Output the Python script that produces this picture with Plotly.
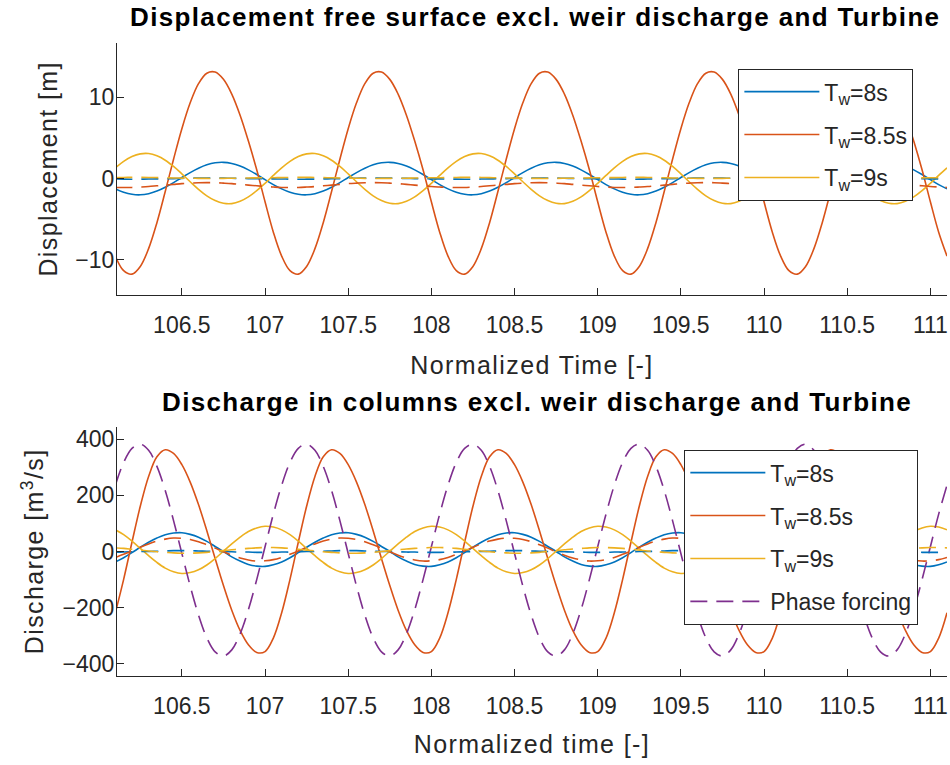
import plotly.graph_objects as go

# ---------------- data ----------------
time = [106.10, 106.15, 106.20, 106.25, 106.30, 106.35, 106.40, 106.45, 106.50, 106.55,
        106.60, 106.65, 106.70, 106.75, 106.80, 106.85, 106.90, 106.95, 107.00, 107.05,
        107.10, 107.15, 107.20, 107.25, 107.30, 107.35, 107.40, 107.45, 107.50, 107.55,
        107.60, 107.65, 107.70, 107.75, 107.80, 107.85, 107.90, 107.95, 108.00, 108.05,
        108.10, 108.15, 108.20, 108.25, 108.30, 108.35, 108.40, 108.45, 108.50, 108.55,
        108.60, 108.65, 108.70, 108.75, 108.80, 108.85, 108.90, 108.95, 109.00, 109.05,
        109.10, 109.15, 109.20, 109.25, 109.30, 109.35, 109.40, 109.45, 109.50, 109.55,
        109.60, 109.65, 109.70, 109.75, 109.80, 109.85, 109.90, 109.95, 110.00, 110.05,
        110.10, 110.15, 110.20, 110.25, 110.30, 110.35, 110.40, 110.45, 110.50, 110.55,
        110.60, 110.65, 110.70, 110.75, 110.80, 110.85, 110.90, 110.95, 111.00, 111.05,
        111.10]

# ---- Displacement [m] ----
disp_8 = [
    -1.27, -1.69, -1.94, -2.0, -1.86, -1.54, -1.07, -0.50, 0.13, 0.74,
    1.27, 1.69, 1.94, 2.0, 1.86, 1.54, 1.07, 0.50, -0.13, -0.74,
    -1.27, -1.69, -1.94, -2.0, -1.86, -1.54, -1.07, -0.50, 0.13, 0.74,
    1.27, 1.69, 1.94, 2.0, 1.86, 1.54, 1.07, 0.50, -0.13, -0.74,
    -1.27, -1.69, -1.94, -2.0, -1.86, -1.54, -1.07, -0.50, 0.13, 0.74,
    1.27, 1.69, 1.94, 2.0, 1.86, 1.54, 1.07, 0.50, -0.13, -0.74,
    -1.27, -1.69, -1.94, -2.0, -1.86, -1.54, -1.07, -0.50, 0.13, 0.74,
    1.27, 1.69, 1.94, 2.0, 1.86, 1.54, 1.07, 0.50, -0.13, -0.74,
    -1.27, -1.69, -1.94, -2.0, -1.86, -1.54, -1.07, -0.50, 0.13, 0.74,
    1.27, 1.69, 1.94, 2.0, 1.86, 1.54, 1.07, 0.50, -0.13, -0.74,
    -1.27]
disp_85 = [
    -9.55, -11.34, -11.77, -10.82, -8.63, -5.43, -1.6, 2.38, 6.14, 9.33,
    11.69, 12.98, 13.12, 12.22, 10.41, 7.81, 4.62, 1.08, -2.86, -6.6,
    -9.55, -11.34, -11.77, -10.82, -8.63, -5.43, -1.6, 2.38, 6.14, 9.33,
    11.69, 12.98, 13.12, 12.22, 10.41, 7.81, 4.62, 1.08, -2.86, -6.6,
    -9.55, -11.34, -11.77, -10.82, -8.63, -5.43, -1.6, 2.38, 6.14, 9.33,
    11.69, 12.98, 13.12, 12.22, 10.41, 7.81, 4.62, 1.08, -2.86, -6.6,
    -9.55, -11.34, -11.77, -10.82, -8.63, -5.43, -1.6, 2.38, 6.14, 9.33,
    11.69, 12.98, 13.12, 12.22, 10.41, 7.81, 4.62, 1.08, -2.86, -6.6,
    -9.55, -11.34, -11.77, -10.82, -8.63, -5.43, -1.6, 2.38, 6.14, 9.33,
    11.69, 12.98, 13.12, 12.22, 10.41, 7.81, 4.62, 1.08, -2.86, -6.6,
    -9.55]
disp_9 = [
    1.32, 2.12, 2.71, 3.04, 3.08, 2.80, 2.26, 1.49, 0.58, -0.39,
    -1.32, -2.12, -2.71, -3.04, -3.08, -2.80, -2.26, -1.49, -0.58, 0.39,
    1.32, 2.12, 2.71, 3.04, 3.08, 2.80, 2.26, 1.49, 0.58, -0.39,
    -1.32, -2.12, -2.71, -3.04, -3.08, -2.80, -2.26, -1.49, -0.58, 0.39,
    1.32, 2.12, 2.71, 3.04, 3.08, 2.80, 2.26, 1.49, 0.58, -0.39,
    -1.32, -2.12, -2.71, -3.04, -3.08, -2.80, -2.26, -1.49, -0.58, 0.39,
    1.32, 2.12, 2.71, 3.04, 3.08, 2.80, 2.26, 1.49, 0.58, -0.39,
    -1.32, -2.12, -2.71, -3.04, -3.08, -2.80, -2.26, -1.49, -0.58, 0.39,
    1.32, 2.12, 2.71, 3.04, 3.08, 2.80, 2.26, 1.49, 0.58, -0.39,
    -1.32, -2.12, -2.71, -3.04, -3.08, -2.80, -2.26, -1.49, -0.58, 0.39,
    1.32]
disp_8_ref = [
    -0.05, -0.07, -0.08, -0.07, -0.06, -0.04, -0.02, 0.0, 0.03, 0.05,
    0.06, 0.07, 0.07, 0.06, 0.04, 0.02, 0.0, -0.02, -0.03, -0.04,
    -0.05, -0.07, -0.08, -0.07, -0.06, -0.04, -0.02, 0.0, 0.03, 0.05,
    0.06, 0.07, 0.07, 0.06, 0.04, 0.02, 0.0, -0.02, -0.03, -0.04,
    -0.05, -0.07, -0.08, -0.07, -0.06, -0.04, -0.02, 0.0, 0.03, 0.05,
    0.06, 0.07, 0.07, 0.06, 0.04, 0.02, 0.0, -0.02, -0.03, -0.04,
    -0.05, -0.07, -0.08, -0.07, -0.06, -0.04, -0.02, 0.0, 0.03, 0.05,
    0.06, 0.07, 0.07, 0.06, 0.04, 0.02, 0.0, -0.02, -0.03, -0.04,
    -0.05, -0.07, -0.08, -0.07, -0.06, -0.04, -0.02, 0.0, 0.03, 0.05,
    0.06, 0.07, 0.07, 0.06, 0.04, 0.02, 0.0, -0.02, -0.03, -0.04,
    -0.05]
disp_85_ref = [
    -1.09, -1.10, -1.09, -1.04, -0.98, -0.89, -0.80, -0.71, -0.62, -0.56,
    -0.51, -0.50, -0.51, -0.56, -0.62, -0.71, -0.80, -0.89, -0.98, -1.04,
    -1.09, -1.10, -1.09, -1.04, -0.98, -0.89, -0.80, -0.71, -0.62, -0.56,
    -0.51, -0.50, -0.51, -0.56, -0.62, -0.71, -0.80, -0.89, -0.98, -1.04,
    -1.09, -1.10, -1.09, -1.04, -0.98, -0.89, -0.80, -0.71, -0.62, -0.56,
    -0.51, -0.50, -0.51, -0.56, -0.62, -0.71, -0.80, -0.89, -0.98, -1.04,
    -1.09, -1.10, -1.09, -1.04, -0.98, -0.89, -0.80, -0.71, -0.62, -0.56,
    -0.51, -0.50, -0.51, -0.56, -0.62, -0.71, -0.80, -0.89, -0.98, -1.04,
    -1.09, -1.10, -1.09, -1.04, -0.98, -0.89, -0.80, -0.71, -0.62, -0.56,
    -0.51, -0.50, -0.51, -0.56, -0.62, -0.71, -0.80, -0.89, -0.98, -1.04,
    -1.09]
disp_9_ref = [
    0.12, 0.14, 0.15, 0.15, 0.14, 0.12, 0.10, 0.08, 0.06, 0.04,
    0.03, 0.02, 0.02, 0.03, 0.04, 0.05, 0.07, 0.09, 0.10, 0.11,
    0.12, 0.14, 0.15, 0.15, 0.14, 0.12, 0.10, 0.08, 0.06, 0.04,
    0.03, 0.02, 0.02, 0.03, 0.04, 0.05, 0.07, 0.09, 0.10, 0.11,
    0.12, 0.14, 0.15, 0.15, 0.14, 0.12, 0.10, 0.08, 0.06, 0.04,
    0.03, 0.02, 0.02, 0.03, 0.04, 0.05, 0.07, 0.09, 0.10, 0.11,
    0.12, 0.14, 0.15, 0.15, 0.14, 0.12, 0.10, 0.08, 0.06, 0.04,
    0.03, 0.02, 0.02, 0.03, 0.04, 0.05, 0.07, 0.09, 0.10, 0.11,
    0.12, 0.14, 0.15, 0.15, 0.14, 0.12, 0.10, 0.08, 0.06, 0.04,
    0.03, 0.02, 0.02, 0.03, 0.04, 0.05, 0.07, 0.09, 0.10, 0.11,
    0.12]

# ---- Discharge [m3/s] ----
q_8 = [
    -37, -22, -4, 15, 33, 48, 60, 66, 67, 61,
    51, 36, 18, 0, -19, -34, -46, -52, -53, -47,
    -37, -22, -4, 15, 33, 48, 60, 66, 67, 61,
    51, 36, 18, 0, -19, -34, -46, -52, -53, -47,
    -37, -22, -4, 15, 33, 48, 60, 66, 67, 61,
    51, 36, 18, 0, -19, -34, -46, -52, -53, -47,
    -37, -22, -4, 15, 33, 48, 60, 66, 67, 61,
    51, 36, 18, 0, -19, -34, -46, -52, -53, -47,
    -37, -22, -4, 15, 33, 48, 60, 66, 67, 61,
    51, 36, 18, 0, -19, -34, -46, -52, -53, -47,
    -37]
q_85 = [
    -218, -99, 33, 161, 267, 337, 362, 349, 309, 247,
    167, 74, -25, -121, -209, -281, -332, -359, -356, -308,
    -218, -99, 33, 161, 267, 337, 362, 349, 309, 247,
    167, 74, -25, -121, -209, -281, -332, -359, -356, -308,
    -218, -99, 33, 161, 267, 337, 362, 349, 309, 247,
    167, 74, -25, -121, -209, -281, -332, -359, -356, -308,
    -218, -99, 33, 161, 267, 337, 362, 349, 309, 247,
    167, 74, -25, -121, -209, -281, -332, -359, -356, -308,
    -218, -99, 33, 161, 267, 337, 362, 349, 309, 247,
    167, 74, -25, -121, -209, -281, -332, -359, -356, -308,
    -218]
q_9 = [
    77, 60, 37, 11, -15, -39, -59, -72, -78, -75,
    -65, -48, -25, 1, 27, 51, 71, 84, 90, 87,
    77, 60, 37, 11, -15, -39, -59, -72, -78, -75,
    -65, -48, -25, 1, 27, 51, 71, 84, 90, 87,
    77, 60, 37, 11, -15, -39, -59, -72, -78, -75,
    -65, -48, -25, 1, 27, 51, 71, 84, 90, 87,
    77, 60, 37, 11, -15, -39, -59, -72, -78, -75,
    -65, -48, -25, 1, 27, 51, 71, 84, 90, 87,
    77, 60, 37, 11, -15, -39, -59, -72, -78, -75,
    -65, -48, -25, 1, 27, 51, 71, 84, 90, 87,
    77]
q_phase = [
    236, 317, 367, 382, 360, 303, 217, 110, -7, -123,
    -226, -307, -357, -372, -350, -293, -207, -100, 17, 133,
    236, 317, 367, 382, 360, 303, 217, 110, -7, -123,
    -226, -307, -357, -372, -350, -293, -207, -100, 17, 133,
    236, 317, 367, 382, 360, 303, 217, 110, -7, -123,
    -226, -307, -357, -372, -350, -293, -207, -100, 17, 133,
    236, 317, 367, 382, 360, 303, 217, 110, -7, -123,
    -226, -307, -357, -372, -350, -293, -207, -100, 17, 133,
    236, 317, 367, 382, 360, 303, 217, 110, -7, -123,
    -226, -307, -357, -372, -350, -293, -207, -100, 17, 133,
    236]
q_8_ref = [
    -2, -2, -1, 0, 0, 1, 2, 3, 3, 3,
    2, 1, 0, 0, -1, -2, -2, -3, -3, -3,
    -2, -2, -1, 0, 0, 1, 2, 3, 3, 3,
    2, 1, 0, 0, -1, -2, -2, -3, -3, -3,
    -2, -2, -1, 0, 0, 1, 2, 3, 3, 3,
    2, 1, 0, 0, -1, -2, -2, -3, -3, -3,
    -2, -2, -1, 0, 0, 1, 2, 3, 3, 3,
    2, 1, 0, 0, -1, -2, -2, -3, -3, -3,
    -2, -2, -1, 0, 0, 1, 2, 3, 3, 3,
    2, 1, 0, 0, -1, -2, -2, -3, -3, -3,
    -2]
q_85_ref = [
    -21, -10, 2, 15, 27, 37, 44, 48, 47, 43,
    35, 24, 12, -1, -13, -23, -30, -34, -33, -29,
    -21, -10, 2, 15, 27, 37, 44, 48, 47, 43,
    35, 24, 12, -1, -13, -23, -30, -34, -33, -29,
    -21, -10, 2, 15, 27, 37, 44, 48, 47, 43,
    35, 24, 12, -1, -13, -23, -30, -34, -33, -29,
    -21, -10, 2, 15, 27, 37, 44, 48, 47, 43,
    35, 24, 12, -1, -13, -23, -30, -34, -33, -29,
    -21, -10, 2, 15, 27, 37, 44, 48, 47, 43,
    35, 24, 12, -1, -13, -23, -30, -34, -33, -29,
    -21]
q_9_ref = [
    13, 11, 8, 5, 2, -1, -3, -5, -6, -6,
    -5, -3, 0, 3, 6, 9, 11, 13, 14, 14,
    13, 11, 8, 5, 2, -1, -3, -5, -6, -6,
    -5, -3, 0, 3, 6, 9, 11, 13, 14, 14,
    13, 11, 8, 5, 2, -1, -3, -5, -6, -6,
    -5, -3, 0, 3, 6, 9, 11, 13, 14, 14,
    13, 11, 8, 5, 2, -1, -3, -5, -6, -6,
    -5, -3, 0, 3, 6, 9, 11, 13, 14, 14,
    13, 11, 8, 5, 2, -1, -3, -5, -6, -6,
    -5, -3, 0, 3, 6, 9, 11, 13, 14, 14,
    13]

x_ticks = [106.5, 107, 107.5, 108, 108.5, 109, 109.5, 110, 110.5, 111]
x_ticktext = ["106.5", "107", "107.5", "108", "108.5", "109", "109.5", "110", "110.5", "111"]
y1_ticks = [-10, 0, 10]
y2_ticks = [-400, -200, 0, 200, 400]

labels = ["T<sub>w</sub>=8s", "T<sub>w</sub>=8.5s", "T<sub>w</sub>=9s"]
phase_label = "Phase forcing"

# ---------------- style ----------------
BLUE = "#0072BD"
RED = "#D95319"
YELLOW = "#EDB120"
PURPLE = "#7E2F8E"
AX = "#262626"
FONT = "Liberation Sans, Arial, Helvetica, sans-serif"
LW = 1.6
DASH = "17px,9px"

fig = go.Figure()

# top subplot
for ys, col, lab, grp in [(disp_8, BLUE, labels[0], "a"), (disp_85, RED, labels[1], "b"),
                          (disp_9, YELLOW, labels[2], "c")]:
    fig.add_trace(go.Scatter(x=time, y=ys, mode="lines", name=lab,
                             line=dict(color=col, width=LW, shape="spline"),
                             xaxis="x", yaxis="y", legend="legend", legendgroup=grp))
for ys, col in [(disp_8_ref, BLUE), (disp_85_ref, RED), (disp_9_ref, YELLOW)]:
    fig.add_trace(go.Scatter(x=time, y=ys, mode="lines", showlegend=False,
                             line=dict(color=col, width=LW, dash=DASH, shape="spline"),
                             xaxis="x", yaxis="y"))

# bottom subplot
for ys, col, lab, grp in [(q_8, BLUE, labels[0], "d"), (q_85, RED, labels[1], "e"),
                          (q_9, YELLOW, labels[2], "f")]:
    fig.add_trace(go.Scatter(x=time, y=ys, mode="lines", name=lab,
                             line=dict(color=col, width=LW, shape="spline"),
                             xaxis="x2", yaxis="y2", legend="legend2", legendgroup=grp))
fig.add_trace(go.Scatter(x=time, y=q_phase, mode="lines", name=phase_label,
                         line=dict(color=PURPLE, width=LW, dash=DASH, shape="spline"),
                         xaxis="x2", yaxis="y2", legend="legend2", legendgroup="g"))
for ys, col in [(q_8_ref, BLUE), (q_85_ref, RED), (q_9_ref, YELLOW)]:
    fig.add_trace(go.Scatter(x=time, y=ys, mode="lines", showlegend=False,
                             line=dict(color=col, width=LW, dash=DASH, shape="spline"),
                             xaxis="x2", yaxis="y2"))

axis_common = dict(showline=True, linecolor=AX, linewidth=1.2, ticks="inside", ticklen=7,
                   tickcolor=AX, tickwidth=1.2, showgrid=False, zeroline=False,
                   tickfont=dict(family=FONT, size=23, color=AX), mirror=False)

SP_T = "<span style='letter-spacing:1.35px'>%s</span>"
SP_A = "<span style='letter-spacing:1.4px'>%s</span>"
title_font = dict(family=FONT, size=25, color=AX)

fig.update_layout(
    width=950, height=765,
    margin=dict(l=117, r=3, t=43, b=89, autoexpand=False),
    paper_bgcolor="white", plot_bgcolor="white",
    showlegend=True,
    xaxis=dict(domain=[0, 1], range=[106.11, 111.1], anchor="y",
               tickvals=x_ticks, ticktext=x_ticktext, ticklabelstandoff=10,
               title=dict(text=SP_A % "Normalized Time [-]", standoff=19, font=title_font),
               **axis_common),
    yaxis=dict(domain=[0.6024, 1.0], range=[-14.3, 16.7], anchor="x",
               tickvals=y1_ticks, ticklabelstandoff=-3,
               title=dict(text=SP_A % "Displacement [m]", standoff=10, font=title_font),
               **axis_common),
    xaxis2=dict(domain=[0, 1], range=[106.11, 111.1], anchor="y2",
                tickvals=x_ticks, ticktext=x_ticktext, ticklabelstandoff=9,
                title=dict(text=SP_A % "Normalized time [-]", standoff=17, font=title_font),
                **axis_common),
    yaxis2=dict(domain=[0, 0.3938], range=[-443, 444], anchor="x2",
                tickvals=y2_ticks, ticklabelstandoff=-3,
                title=dict(text=SP_A % "Discharge [m<sup>3</sup>/s]", standoff=11, font=title_font),
                **axis_common),
    legend=dict(x=0.7484, y=0.9589, xanchor="left", yanchor="top",
                bgcolor="white", bordercolor=AX, borderwidth=1.2,
                font=dict(family=FONT, size=23, color=AX),
                itemwidth=75, tracegroupgap=10, traceorder="grouped"),
    legend2=dict(x=0.6833, y=0.3570, xanchor="left", yanchor="top",
                 bgcolor="white", bordercolor=AX, borderwidth=1.2,
                 font=dict(family=FONT, size=23, color=AX),
                 itemwidth=75, tracegroupgap=10, traceorder="grouped"),
    annotations=[
        dict(text="<b>" + (SP_T % "Displacement free surface excl. weir discharge and Turbine") + "</b>",
             xref="paper", yref="paper", x=0.504, y=1.041, xanchor="center", yanchor="middle",
             showarrow=False, font=dict(family=FONT, size=26, color="black")),
        dict(text="<b>" + (SP_T % "Discharge in columns excl. weir discharge and Turbine") + "</b>",
             xref="paper", yref="paper", x=0.506, y=0.433, xanchor="center", yanchor="middle",
             showarrow=False, font=dict(family=FONT, size=26, color="black")),
    ],
)

fig.write_html("out.html")
